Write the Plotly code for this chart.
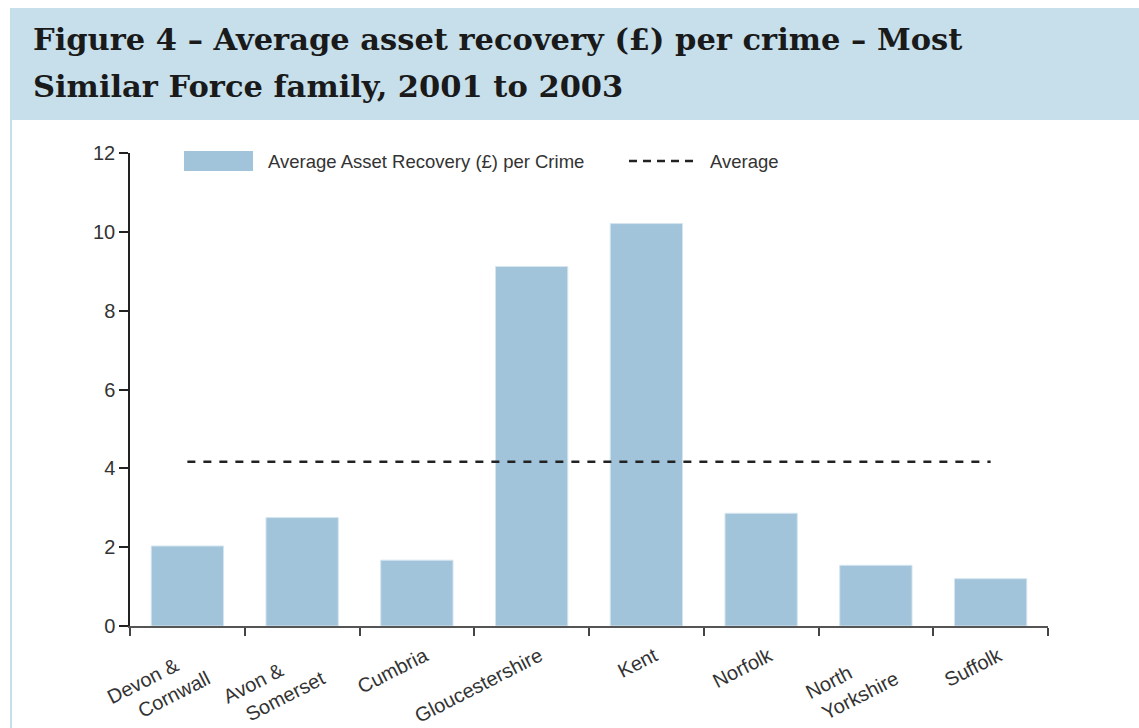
import plotly.graph_objects as go

# Forces in the Most Similar Force family
forces = ["Devon & Cornwall", "Avon & Somerset", "Cumbria", "Gloucestershire",
          "Kent", "Norfolk", "North Yorkshire", "Suffolk"]
# Axis labels; the first line of a two-line label is padded so the second line steps in
NB = "\u00a0"
force_labels = ["Devon &" + NB * 4 + "<br>Cornwall", "Avon &" + NB * 6 + "<br>Somerset",
                "Cumbria", "Gloucestershire", "Kent", "Norfolk",
                "North" + NB * 7 + "<br>Yorkshire", "Suffolk"]
# Average asset recovery (£) per crime, 2001 to 2003
recovery_per_crime = [2.03, 2.75, 1.67, 9.12, 10.21, 2.86, 1.54, 1.20]
# Family average
family_average = 4.17
y_ticks = [0, 2, 4, 6, 8, 10, 12]

W, H = 1139, 728
L, R, T, B = 130, 91, 153, 102
PW, PH = W - L - R, H - T - B


def px(x):
    return (x - L) / PW


def py(y):
    return (H - B - y) / PH


BAR = "#a2c4da"
BANNER = "#c6dfeb"
TEXT = "#333333"
SANS = "Liberation Sans"

fig = go.Figure()
fig.add_trace(go.Bar(
    x=forces, y=recovery_per_crime, name="Average Asset Recovery (£) per Crime",
    marker=dict(color=BAR, line=dict(color="#d4e5ef", width=1)),
    showlegend=False, hoverinfo="x+y",
))
fig.add_trace(go.Scatter(
    x=forces, y=[family_average] * len(forces), name="Average", mode="lines",
    line=dict(color="#222222", width=2.5, dash="8px,8px"),
    showlegend=False,
))

shapes = [
    # title banner
    dict(type="rect", xref="paper", yref="paper", x0=px(10), x1=px(1160),
         y0=py(120), y1=py(8), fillcolor=BANNER, line=dict(width=0), layer="below"),
    # panel left edge
    dict(type="rect", xref="paper", yref="paper", x0=px(10), x1=px(12),
         y0=py(740), y1=py(120), fillcolor=BANNER, line=dict(width=0), layer="below"),
    # legend swatch for bars
    dict(type="rect", xref="paper", yref="paper", x0=px(184), x1=px(253),
         y0=py(171), y1=py(151), fillcolor=BAR, line=dict(width=0)),
    # legend sample for the average line
    dict(type="line", xref="paper", yref="paper", x0=px(629), x1=px(699),
         y0=py(161), y1=py(161), line=dict(color="#222222", width=2.5, dash="8px,6px")),
]

TITLE_FONT = dict(family="DejaVu Serif", size=30.5, color="#1a1a1a")
annotations = [
    dict(text="<b>Figure 4 – Average asset recovery (£) per crime – Most</b>",
         xref="paper", yref="paper", x=px(31), y=py(39), xanchor="left", yanchor="middle",
         showarrow=False, font=TITLE_FONT),
    dict(text="<b>Similar Force family, 2001 to 2003</b>",
         xref="paper", yref="paper", x=px(31), y=py(86), xanchor="left", yanchor="middle",
         showarrow=False, font=TITLE_FONT),
    dict(text="Average Asset Recovery (£) per Crime",
         xref="paper", yref="paper", x=px(266), y=py(161), xanchor="left", yanchor="middle",
         showarrow=False, font=dict(family=SANS, size=18.5, color=TEXT)),
    dict(text="Average",
         xref="paper", yref="paper", x=px(708), y=py(161), xanchor="left", yanchor="middle",
         showarrow=False, font=dict(family=SANS, size=18.5, color=TEXT)),
]

fig.update_layout(
    width=W, height=H,
    margin=dict(l=L, r=R, t=T, b=B, pad=0, autoexpand=False),
    paper_bgcolor="white", plot_bgcolor="white",
    bargap=0.37,
    shapes=shapes, annotations=annotations,
    font=dict(family=SANS, size=18, color=TEXT),
)
fig.update_xaxes(
    tickmode="array", tickvals=forces, ticktext=force_labels, automargin=False,
    showline=True, linecolor="#555555", linewidth=1.5,
    ticks="outside", tickson="boundaries", ticklen=8, tickcolor="#444444", tickwidth=1.5,
    tickangle=-27, tickfont=dict(family=SANS, size=20, color=TEXT),
    ticklabelstandoff=9, ticklabelshift=8,
    showgrid=False, zeroline=False, range=[-0.5, 7.5],
)
fig.update_yaxes(
    range=[0, 12], tickvals=y_ticks, showline=True, linecolor="#222222", linewidth=1.5,
    automargin=False,
    ticks="outside", ticklen=9, tickcolor="#222222", tickwidth=1.5,
    tickfont=dict(family=SANS, size=20, color=TEXT), showgrid=False, zeroline=False,
)

fig.write_html("out.html")
